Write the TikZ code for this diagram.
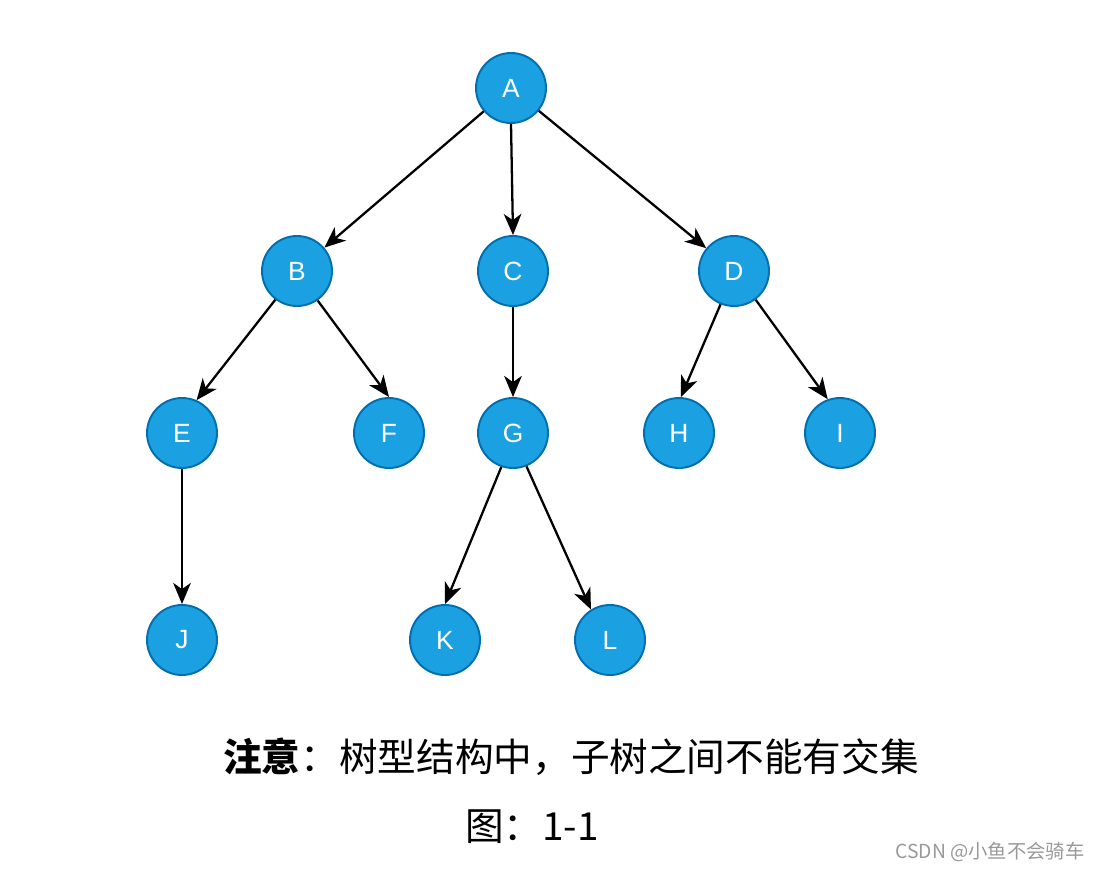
\documentclass[tikz,border=0pt]{standalone}
\usepackage{fontspec}
\setmainfont{Liberation Sans}
\newfontfamily\cjk{Noto Sans CJK SC}
\usepackage{tikz}
\usetikzlibrary{arrows.meta, positioning}
\usepackage{xcolor}
\definecolor{nodefill}{HTML}{1BA1E2}
\definecolor{nodeline}{HTML}{006EAF}
\tikzset{
	treenode/.style={circle, draw=nodeline, fill=nodefill, line width=1.1pt, minimum size=1.4cm, inner sep=0pt, text=white, font=\fontsize{15}{18}\selectfont},
	edge/.style={-{Stealth[length=12pt, width=10pt, inset=3.5pt]}, line width=1.3pt}
}

\begin{document}
\begin{tikzpicture}[x=0.02cm, y=-0.02cm]
		\useasboundingbox (0,0) rectangle (1101,871);
		
		\node[treenode] (A) at (511,88) {A};
		
		\node[treenode] (B) at (297,271) {B};
		\node[treenode] (C) at (513,271) {C};
		\node[treenode] (D) at (734,271) {D};
		
		\node[treenode] (E) at (182,433) {E};
		\node[treenode] (F) at (389,433) {F};
		\node[treenode] (G) at (513,433) {G};
		\node[treenode] (H) at (679,433) {H};
		\node[treenode] (I) at (840,433) {I};
		
		\node[treenode] (J) at (182,640) {J};
		\node[treenode] (K) at (445,640) {K};
		\node[treenode] (L) at (610,640) {L};
		
		\node (note) at (571,757) {\cjk\fontsize{22}{26}\selectfont\textbf{注意}：树型结构中，子树之间不能有交集};
		\node (caption) at (532,827) {\cjk\fontsize{22}{26}\selectfont 图：1-1};
		\node[text=black!40] (mark) at (990,852) {\cjk\fontsize{11}{13}\selectfont CSDN @小鱼不会骑车};
		
		\draw[edge] (A) -- (B);
		\draw[edge] (A.south) -- (C.north);
		\draw[edge] (A) -- (D);
		\draw[edge] (B.233) -- (E.66);
		\draw[edge] (B.305) -- (F.north);
		\draw[edge] (C.south) -- (G.north);
		\draw[edge] (D.248) -- (H.87);
		\draw[edge] (D.307) -- (I.110);
		\draw[edge] (E.south) -- (J.north);
		\draw[edge] (G.251) -- (K.north);
		\draw[edge] (G.292) -- (L.122);
	\end{tikzpicture}
\end{document}
